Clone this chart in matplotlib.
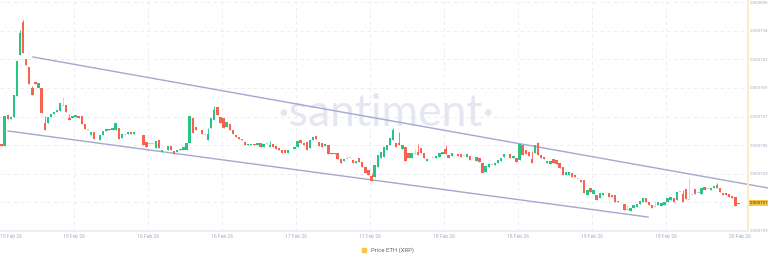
import datetime as dt
import numpy as np
import matplotlib
matplotlib.use("Agg")
import matplotlib.pyplot as plt
import matplotlib.transforms as mtransforms
from matplotlib.lines import Line2D

# half-hour candles, prices in micro-ETH (x1e-6)
start = dt.datetime(2026, 2, 15, 0, 0)
step = dt.timedelta(minutes=30)

opens_u = [
    745.8, 745.0, 758.1, 756.4, 757.2, 766.1, 784.7, 797.4, 781.7, 778.4,
    770.3, 772.0, 769.5, 769.5, 757.6, 754.7, 757.2, 758.5, 759.3, 759.7,
    762.7, 762.3, 758.5, 756.8, 757.2, 757.6, 757.6, 754.3, 752.1, 749.6,
    750.9, 747.5, 747.5, 749.6, 751.3, 752.1, 751.7, 751.7, 752.6, 748.3,
    750.0, 750.0, 750.9, 750.0, 750.9, 749.6, 749.6, 746.6, 746.2, 746.2,
    744.1, 747.5, 742.4, 743.7, 743.3, 745.0, 742.8, 742.4, 743.3, 743.3,
    743.3, 746.2, 756.8, 753.0, 751.3, 751.7, 750.0, 750.0, 752.6, 755.9,
    761.4, 757.2, 756.8, 753.0, 754.3, 751.7, 749.6, 748.8, 747.9, 746.6,
    745.4, 745.4, 745.8, 745.4,
    746.2, 744.5, 746.0, 745.8, 745.8, 745.0, 744.1, 743.3, 743.3, 742.0,
    743.7, 743.7, 744.5, 747.5, 746.2, 746.6, 744.1, 747.5, 749.2, 746.6,
    746.2, 745.0, 745.4, 742.0, 741.6, 742.0, 739.4, 738.6, 740.3, 739.9,
    739.0, 737.8, 739.9, 738.2, 736.1, 734.8, 733.5, 731.8, 736.1, 739.9,
    740.3, 743.3, 745.4, 747.5, 746.2, 746.2, 743.7, 744.5, 742.0, 739.9,
    742.0, 744.5, 744.1, 742.0, 738.6, 739.4, 739.9, 739.9, 740.3, 741.6,
    743.7, 741.1, 740.7, 741.6, 741.6, 741.6, 740.7, 740.3, 740.7, 739.4,
    738.6, 739.9, 737.8, 734.0, 736.1, 736.9, 736.9, 737.8, 738.6, 740.3,
    741.6, 741.6, 739.9, 739.9,
    739.0, 745.4, 743.3, 742.4, 742.8, 742.0, 746.2, 741.1, 740.3, 737.8,
    737.3, 739.4, 739.0, 737.8, 736.1, 732.7, 732.7, 733.5, 732.7, 731.0,
    730.6, 730.6, 724.2, 727.2, 724.6, 724.2, 722.9, 724.2, 724.6, 725.1,
    724.2, 724.2, 721.7, 720.8, 720.4, 720.0, 717.4, 718.7, 719.1, 720.4,
    721.3, 722.9, 721.3, 720.0, 719.6, 720.0, 719.6, 720.0, 721.3, 722.1,
    722.9, 722.1, 725.5, 725.5, 726.8, 724.2, 724.2, 726.8, 725.1, 724.6,
    727.6, 726.8, 726.3, 727.2, 728.5, 727.2, 725.1, 725.1, 724.6, 723.8,
    723.4, 720.4,
]

closes_u = [
    745.0, 757.6, 756.4, 757.2, 766.5, 780.9, 794.0, 784.3, 779.2, 771.2,
    767.4, 771.2, 771.6, 758.9, 754.7, 757.2, 758.5, 759.3, 760.2, 763.1,
    762.5, 759.3, 757.6, 757.6, 758.1, 756.8, 754.3, 752.1, 751.9, 750.9,
    747.9, 747.3, 749.6, 751.3, 752.1, 751.7, 752.6, 754.7, 747.9, 750.0,
    749.8, 750.9, 750.0, 750.9, 750.7, 749.4, 745.4, 744.5, 746.0, 746.0,
    747.1, 744.1, 743.3, 743.5, 745.0, 743.3, 741.6, 743.3, 743.7, 744.5,
    746.2, 757.6, 750.4, 751.7, 751.1, 750.0, 749.8, 752.6, 756.8, 760.2,
    758.1, 754.7, 752.6, 755.1, 751.7, 750.0, 748.8, 747.9, 747.5, 745.4,
    745.8, 745.8, 745.4, 746.2,
    744.5, 745.8, 746.2, 746.6, 744.5, 743.7, 743.3, 742.0, 742.0, 743.3,
    743.5, 744.5, 747.1, 746.2, 745.4, 743.3, 747.5, 748.8, 747.9, 745.0,
    744.5, 745.8, 741.6, 741.6, 742.0, 739.4, 737.8, 739.4, 740.1, 739.8,
    737.8, 738.6, 738.2, 736.1, 733.5, 732.7, 731.4, 736.9, 741.1, 742.4,
    744.5, 745.4, 748.3, 751.7, 744.5, 745.4, 745.4, 738.6, 739.9, 742.0,
    741.8, 743.3, 742.0, 739.9, 739.4, 739.3, 739.8, 740.7, 742.0, 742.4,
    741.6, 739.9, 742.0, 741.4, 740.7, 740.3, 740.6, 741.6, 739.0, 739.3,
    740.3, 738.2, 733.5, 736.5, 737.3, 736.8, 737.8, 739.0, 739.9, 741.6,
    741.4, 739.9, 740.7, 738.2,
    745.8, 741.1, 741.6, 740.7, 741.1, 745.4, 741.1, 739.9, 739.4, 738.6,
    738.6, 737.8, 737.3, 735.6, 732.7, 734.0, 734.0, 731.8, 731.8, 730.9,
    729.7, 725.1, 726.3, 725.5, 726.3, 722.1, 725.1, 725.1, 724.5, 723.4,
    723.4, 721.3, 721.1, 720.7, 717.9, 719.9, 718.7, 720.0, 720.4, 721.7,
    722.9, 721.3, 720.0, 718.7, 719.4, 721.3, 720.8, 721.3, 722.9, 723.4,
    721.3, 725.5, 725.4, 722.1, 722.5, 724.1, 724.1, 724.6, 725.0, 727.2,
    726.3, 726.7, 727.2, 728.0, 727.2, 725.5, 724.2, 724.2, 723.4, 722.9,
    719.6, 720.8,
]

# candles with a visible wick
wick_idx = [6, 7, 10, 14, 20, 22, 67, 69, 87, 112, 120, 127, 129, 134, 135,
            144, 172, 174, 203, 212, 221, 223, 232]
wick_hi = [794.0, 798.3, 770.3, 757.6, 765.7, 758.5, 752.6, 761.9, 747.1,
           740.7, 733.5, 752.6, 750.9, 743.7, 745.8, 745.4, 742.8, 746.6,
           720.0, 721.7, 726.3, 731.4, 729.3]
wick_lo = [783.4, 784.3, 766.5, 751.7, 761.9, 755.9, 747.5, 755.9, 744.5,
           739.4, 730.1, 747.5, 745.4, 741.6, 741.1, 741.6, 737.8, 741.1,
           717.9, 719.1, 721.3, 722.1, 727.2]

# channel drawn on the chart
upper_t = [dt.datetime(2026, 2, 15, 5, 20), dt.datetime(2026, 2, 20, 4, 32)]
upper_p = [782.6, 727.2]
lower_t = [dt.datetime(2026, 2, 15, 1, 18), dt.datetime(2026, 2, 19, 9, 5)]
lower_p = [751.3, 714.9]

y_ticks_u = [709.0, 721.1, 733.2, 745.3, 757.4, 769.5, 781.6, 793.7, 805.8]
y_labels = ['0.000709', '0.000721', '0.000733', '0.000745', '0.000757',
            '0.000769', '0.000782', '0.000794', '0.000806']
x_ticks = [start + dt.timedelta(hours=12 * k) for k in range(11)]

U = 1e-6
GREEN = '#26c485'
RED = '#f9624f'
GREY = '#c9cdd8'
YELLOW = '#f6c646'
TICK = '#a7aec2'
SMALL = 'Roboto'

o = np.array(opens_u) * U
c = np.array(closes_u) * U
n = len(o)
t = np.array([start + step * i + step / 2 for i in range(n)])
hi = np.maximum(o, c)
lo = np.minimum(o, c)
hi[wick_idx] = np.array(wick_hi) * U
lo[wick_idx] = np.array(wick_lo) * U

diff = (c - o) / U
colors = np.where(diff > 0.25, GREEN, np.where(diff < -0.25, RED, GREY))

fig = plt.figure(figsize=(7.68, 2.6), dpi=100)
ax = fig.add_axes([0, 29 / 260, 748 / 768, 231 / 260])

ax.text(0.516, 0.51, '\u00b7santiment\u00b7', transform=ax.transAxes,
        ha='center', va='center', fontsize=32, color='#e4e7f1',
        family='Lato', zorder=0)

for yt in y_ticks_u[1:]:
    ax.axhline(yt * U, color='#e9eaef', lw=0.6, ls=(0, (4, 4)), zorder=0.5)
for xt in x_ticks[1:-1]:
    ax.axvline(xt, color='#e9eaef', lw=0.6, ls=(0, (4, 4)), zorder=0.5)

ax.plot(upper_t, np.array(upper_p) * U, color='#a4a7d0', lw=1.0, zorder=2,
        clip_on=False)
ax.plot(lower_t, np.array(lower_p) * U, color='#a4a7d0', lw=1.0, zorder=2)

width = step * 0.75
ax.vlines(t, hi, lo, colors=colors, lw=0.6, zorder=3)
ax.bar(t, np.maximum(np.abs(c - o), 0.35 * U), bottom=lo, width=width,
       color=colors, linewidth=0, zorder=4)

ax.set_xlim(start, start + dt.timedelta(hours=121.3))
ax.set_ylim(709.0 * U, 806.7 * U)

ax.set_yticks(np.array(y_ticks_u) * U)
ax.set_yticklabels(y_labels, family=SMALL)
ax.yaxis.tick_right()
ax.tick_params(axis='y', length=0, pad=1.2, labelsize=3.2, labelcolor=TICK)
ax.set_xticks(x_ticks)
ax.set_xticklabels([d.strftime('%d %b %y') for d in x_ticks], family=SMALL)
ax.tick_params(axis='x', length=0, pad=2.5, labelsize=3.6, labelcolor=TICK)
ax.get_xticklabels()[0].set_ha('left')

for side in ['top', 'left']:
    ax.spines[side].set_visible(False)
ax.spines['bottom'].set_color('#eceef3')
ax.spines['bottom'].set_linewidth(1.5)
ax.spines['right'].set_color('#fdecc2')
ax.spines['right'].set_linewidth(1.3)

trans = mtransforms.blended_transform_factory(ax.transAxes, ax.transData)
ax.text(1.0025, c[-1], f'{c[-1]:.6f}', transform=trans, ha='left',
        va='center', fontsize=3.2, family=SMALL, color='#3a2f00',
        clip_on=False,
        bbox=dict(boxstyle='square,pad=0.3', fc=YELLOW, ec='none'))

handle = Line2D([], [], marker='s', ls='', color=YELLOW, markersize=3)
fig.legend([handle], ['Price ETH (XRP)'], loc='center',
           bbox_to_anchor=(0.503, 0.038), frameon=False,
           handletextpad=0.2, labelcolor='#5f6470',
           prop={'family': SMALL, 'size': 4.3})

fig.savefig('out.png', dpi=100)
